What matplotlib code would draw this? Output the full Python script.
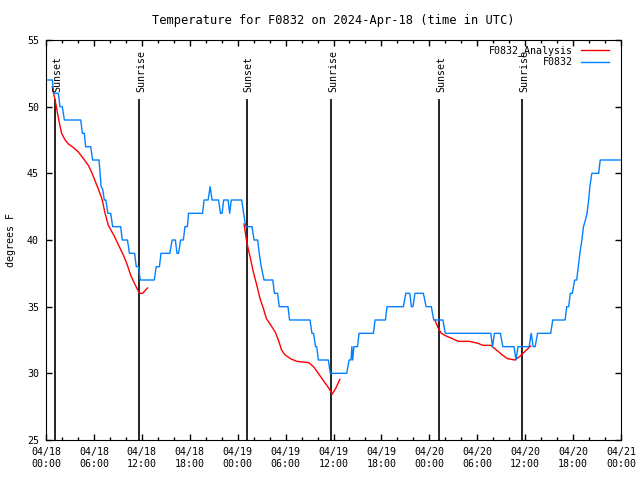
import numpy as np
import matplotlib
matplotlib.use('Agg')
import matplotlib.pyplot as plt

# hours since 2024-04-18 00:00 UTC
obs_hours = [0.25, 0.8, 0.95, 1.55, 1.75, 2.04, 2.3, 4.35, 4.55, 4.8, 4.96, 5.6, 5.84, 6.64, 6.9, 7.1,
             7.3, 7.5, 7.75, 8.1, 8.35, 9.35, 9.55, 10.2, 10.45, 11.1, 11.3, 11.6, 11.8, 13.56, 13.8,
             14.2, 14.4, 15.5, 15.8, 16.2, 16.4, 16.6, 16.85, 17.2, 17.4, 17.7, 17.85, 19.6, 19.8, 20.3,
             20.55, 20.8, 21.6, 21.85, 22.05, 22.25, 22.8, 23.0, 23.2, 24.3, 24.5, 24.75, 25.0, 25.8,
             26.05, 26.5, 26.7, 26.95, 27.3, 28.4, 28.6, 29.0, 29.2, 30.3, 30.5, 33.06, 33.3, 33.5,
             33.75, 33.9, 34.1, 35.35, 35.6, 37.65, 37.95, 38.2, 38.3, 38.4, 38.55, 39.0, 39.2, 41.0,
             41.2, 42.5, 42.7, 44.75, 45.05, 45.55, 45.75, 45.95, 46.2, 47.25, 47.6, 48.25, 48.55,
             49.7, 50.0, 55.7, 55.9, 56.15, 56.9, 57.2, 58.6, 58.85, 59.1, 60.5, 60.75, 61.0, 61.25,
             61.55, 63.2, 63.45, 65.0, 65.2, 65.45, 65.65, 65.9, 66.2, 66.45, 66.65, 66.85, 67.1,
             67.3, 67.5, 67.75, 67.95, 68.1, 68.35, 69.2, 69.4, 71.9]
obs_temps = [52, 52, 51, 51, 50, 50, 49, 49, 48, 48, 47, 47, 46, 46, 44, 43.8,
             43, 43, 42, 42, 41, 41, 40, 40, 39, 39, 38, 38, 37, 37, 38,
             38, 39, 39, 40, 40, 39, 39, 40, 40, 41, 41, 42, 42, 43, 43,
             44, 43, 43, 42, 42, 43, 43, 42, 43, 43, 43, 42, 41, 41,
             40, 40, 39, 38, 37, 37, 36, 36, 35, 35, 34, 34, 33, 33,
             32, 32, 31, 31, 30, 30, 31, 31, 32, 31, 32, 32, 33, 33,
             34, 34, 35, 35, 36, 36, 35, 35, 36, 36, 35, 35, 34,
             34, 33, 33, 32, 33, 33, 32, 32, 31, 32, 32, 33, 32, 32,
             33, 33, 34, 34, 35, 35, 36, 36, 37, 37, 38, 39, 40,
             41, 41.4, 42, 43, 44, 45, 45, 46, 46]

ana1_hours = [0.79, 1.2, 1.6, 1.95, 2.4, 2.8, 3.4, 4.05, 4.7, 5.3, 5.7, 6.1, 6.6, 7.0, 7.4, 7.8,
              8.5, 9.1, 9.7, 10.2, 10.6, 11.2, 11.7, 12.1, 12.7]
ana1_temps = [51.5, 50.3, 49.0, 48.0, 47.5, 47.2, 46.95, 46.6, 46.1, 45.6, 45.1, 44.5, 43.75, 43.1,
              42.0, 41.1, 40.35, 39.6, 38.85, 38.1, 37.35, 36.6, 36.0, 36.0, 36.4]
ana2_hours = [24.8, 25.1, 25.3, 25.55, 25.96, 26.4, 26.8, 27.2, 27.6, 28.05, 28.7, 29.1, 29.5, 29.9,
              30.6, 31.4, 32.9, 33.5, 34.1, 34.8, 35.4, 35.85, 36.3, 36.8]
ana2_temps = [41.2, 40.0, 39.4, 38.75, 37.6, 36.6, 35.6, 34.9, 34.1, 33.7, 33.1, 32.5, 31.75, 31.4,
              31.1, 30.9, 30.8, 30.5, 30.0, 29.4, 28.9, 28.45, 28.9, 29.55]
ana3_hours = [48.7, 49.1, 49.5, 50.1, 50.9, 51.6, 53.0, 54.1, 54.7, 55.7, 56.4, 57.2, 57.8, 58.7,
              59.3, 59.9, 60.7]
ana3_temps = [34.0, 33.4, 33.0, 32.8, 32.6, 32.4, 32.4, 32.25, 32.1, 32.1, 31.75, 31.35, 31.1, 31.0,
              31.25, 31.6, 32.05]

sunset_hours = [1.12, 25.15, 49.2]
sunrise_hours = [11.68, 35.7, 59.63]

tick_hours = list(range(0, 73, 6))
tick_labels = ['04/18\n00:00', '04/18\n06:00', '04/18\n12:00', '04/18\n18:00',
               '04/19\n00:00', '04/19\n06:00', '04/19\n12:00', '04/19\n18:00',
               '04/20\n00:00', '04/20\n06:00', '04/20\n12:00', '04/20\n18:00',
               '04/21\n00:00']

plt.rcParams['font.family'] = 'DejaVu Sans Mono'
plt.rcParams['font.size'] = 7.2

fig = plt.figure(figsize=(6.4, 4.8), dpi=100)
ax = fig.add_axes([46 / 640, 40 / 480, 575 / 640, 400 / 480])

for h in sunset_hours:
    ax.vlines(h, 25, 50.6, color='black', lw=1.2)
    ax.text(h + 0.25, 51.1, 'Sunset', rotation=90, ha='center', va='bottom')
for h in sunrise_hours:
    ax.vlines(h, 25, 50.6, color='black', lw=1.2)
    ax.text(h + 0.25, 51.1, 'Sunrise', rotation=90, ha='center', va='bottom')

red = '#ff0000'
blue = '#0080ff'
ax.plot(ana1_hours, ana1_temps, color=red, lw=1.0, label='F0832_Analysis')
ax.plot(ana2_hours, ana2_temps, color=red, lw=1.0)
ax.plot(ana3_hours, ana3_temps, color=red, lw=1.0)
ax.plot(obs_hours, obs_temps, color=blue, lw=1.0, label='F0832')

ax.set_xlim(0, 72)
ax.set_ylim(25, 55)
ax.set_xticks(tick_hours)
ax.set_xticklabels(tick_labels)
ax.set_xticks(range(0, 73, 2), minor=True)
ax.set_yticks(range(25, 56, 5))
ax.tick_params(which='both', direction='in', top=True, right=True, width=1)
ax.tick_params(which='major', length=4.5, pad=5)
ax.tick_params(which='minor', length=2)
ax.tick_params(axis='y', which='minor', left=False, right=False)

ax.set_ylabel('degrees F', labelpad=8)
ax.set_title('Temperature for F0832 on 2024-Apr-18 (time in UTC)', pad=11.5)

ax.legend(loc='upper right', bbox_to_anchor=(0.9866, 0.997), frameon=False, markerfirst=False,
          handlelength=2.8, handletextpad=0.8, labelspacing=0.12, borderaxespad=0.2, borderpad=0.2)

fig.savefig('out.png', dpi=100)
